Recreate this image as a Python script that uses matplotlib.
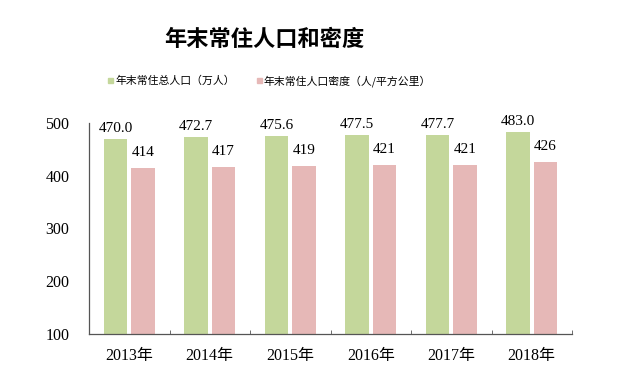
import numpy as np
import matplotlib.pyplot as plt
from matplotlib.patches import Rectangle

years = ['2013年', '2014年', '2015年', '2016年', '2017年', '2018年']
population = [470.0, 472.7, 475.6, 477.5, 477.7, 483.0]
density = [414, 417, 419, 421, 421, 426]
pop_labels = ['470.0', '472.7', '475.6', '477.5', '477.7', '483.0']
density_labels = ['414', '417', '419', '421', '421', '426']

series_names = ['年末常住总人口（万人）', '年末常住人口密度（人/平方公里）']
green = '#c4d79b'
pink = '#e6b8b7'
fam = ['Liberation Serif', 'Noto Sans CJK SC']

fig = plt.figure(figsize=(6.32, 3.78), dpi=100)
ax = fig.add_axes([89 / 632, 44 / 378, 483 / 632, 211 / 378])

x = np.arange(len(years))
w = 0.29
off = 0.17
b1 = ax.bar(x - off, np.array(population) - 100, w, bottom=100, color=green)
b2 = ax.bar(x + off, np.array(density) - 100, w, bottom=100, color=pink)

for rect, lab in zip(b1, pop_labels):
    ax.annotate(lab, (rect.get_x() + rect.get_width() / 2, rect.get_y() + rect.get_height()),
                xytext=(0, 3), textcoords='offset points', ha='center', va='bottom',
                fontsize=11, family=fam)
for rect, lab in zip(b2, density_labels):
    ax.annotate(lab, (rect.get_x() + rect.get_width() / 2, rect.get_y() + rect.get_height()),
                xytext=(0, 6.5), textcoords='offset points', ha='center', va='bottom',
                fontsize=11, family=fam)

ax.set_xlim(-0.5, len(years) - 0.5)
ax.set_ylim(100, 500)
ax.set_yticks([100, 200, 300, 400, 500])
ax.set_xticks(x)
ax.set_xticklabels(years)
ax.set_xticks(np.arange(len(years) + 1) - 0.5, minor=True)
ax.tick_params(axis='x', which='major', length=0, pad=10)
ax.tick_params(axis='x', which='minor', direction='in', length=3, color='#555555')
ax.tick_params(axis='y', length=0, pad=14)
for t in ax.get_xticklabels() + ax.get_yticklabels():
    t.set_family(fam)
    t.set_fontsize(11.5)

for s in ['top', 'right']:
    ax.spines[s].set_visible(False)
for s in ['left', 'bottom']:
    ax.spines[s].set_color('#555555')
    ax.spines[s].set_linewidth(0.9)

fig.text(264 / 632, 1 - 39 / 378, '年末常住人口和密度', ha='center', va='center',
         fontsize=16, fontweight='heavy', family='Noto Sans CJK SC')

# legend
fig.patches.append(Rectangle((108 / 632, 1 - 83 / 378), 5 / 632, 5 / 378,
                             transform=fig.transFigure, color=green))
fig.text(115 / 632, 1 - 81 / 378, series_names[0], ha='left', va='center',
         fontsize=7.8, family='Noto Sans CJK SC')
fig.patches.append(Rectangle((257 / 632, 1 - 83 / 378), 5 / 632, 5 / 378,
                             transform=fig.transFigure, color=pink))
fig.text(264 / 632, 1 - 81 / 378, series_names[1], ha='left', va='center',
         fontsize=7.8, family='Noto Sans CJK SC')

fig.savefig('out.png', dpi=100)
